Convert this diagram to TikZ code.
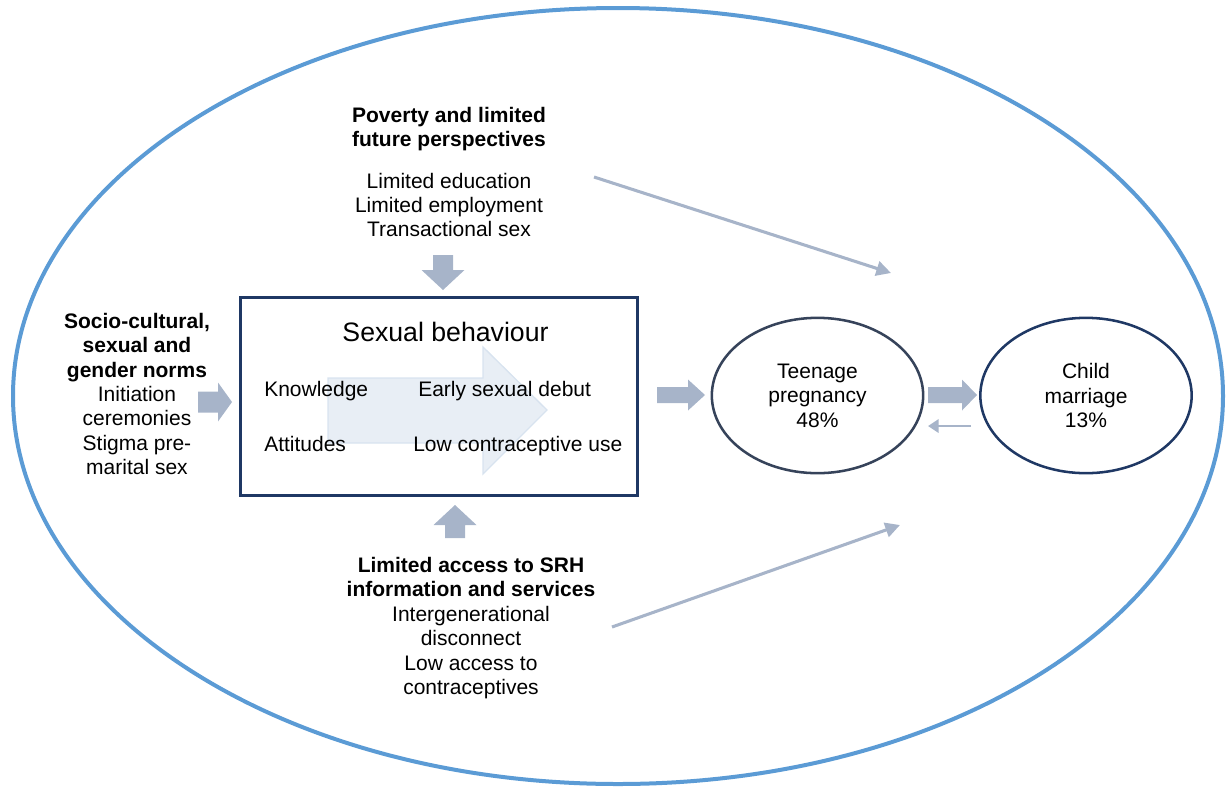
\documentclass[tikz,border=0pt]{standalone}
\usepackage{fontspec}
\setmainfont{Liberation Sans}
\usetikzlibrary{arrows.meta,shapes.geometric}
\definecolor{outerblue}{HTML}{5B9BD5}
\definecolor{navy}{HTML}{1F3864}
\definecolor{slate}{HTML}{36435A}
\definecolor{arrowgrey}{HTML}{A7B4C9}
\definecolor{innerfill}{HTML}{E8EEF5}
\definecolor{innerline}{HTML}{D8E3EF}
\newcommand{\blockarr}[7]{%
  \fill[arrowgrey,shift={(#1,#2)},rotate=#3] (0,-#6) -- (#4-#5,-#6) -- (#4-#5,-#7) -- (#4,0) -- (#4-#5,#7) -- (#4-#5,#6) -- (0,#6) -- cycle;}
\tikzset{
  txt/.style={font=\fontsize{15.75}{18.3}\selectfont, align=center, inner sep=0pt},
  btxt/.style={font=\fontsize{15.75}{18.3}\selectfont\bfseries, align=center, inner sep=0pt},
  outcome/.style={ellipse, line width=1.9pt, minimum width=158.5pt, minimum height=116.5pt,
     inner sep=0pt, align=center, font=\fontsize{15.75}{18.3}\selectfont},
  thinarrow/.style={arrowgrey, line width=2.3pt, -{Triangle[length=11pt,width=11pt]}},
  backarrow/.style={arrowgrey, line width=1.9pt, -{Triangle[length=8pt,width=10pt]}},
}
\begin{document}
\begin{tikzpicture}[x=0.75pt,y=-0.75pt]
\useasboundingbox (0,0) rectangle (1231,786);
% outer ellipse
\node[ellipse, draw=outerblue, line width=3pt, minimum width=907.5pt, minimum height=582pt, inner sep=0pt] (outer) at (618,396) {};
% central box
\node[draw=navy, line width=2.25pt, minimum width=297.75pt, minimum height=148.5pt, inner sep=0pt] (box) at (438.5,396) {};
% inner light arrow
\filldraw[fill=innerfill, draw=innerline, line width=1pt] (328,378) -- (483,378) -- (483,347) -- (547,410) -- (483,474) -- (483,443) -- (328,443) -- cycle;
\node[font=\fontsize{20}{24}\selectfont, inner sep=0pt, anchor=base] (title) at (445.5,341.5) {Sexual behaviour};
\node[txt, anchor=base west] (know) at (264,396.5) {Knowledge};
\node[txt, anchor=base west] (debut) at (418,396.5) {Early sexual debut};
\node[txt, anchor=base west] (att) at (264,451.5) {Attitudes};
\node[txt, anchor=base west] (lowc) at (413,451.5) {Low contraceptive use};
% top group
\node[btxt] (povh) at (449,129) {Poverty and limited\\future perspectives};
\node[txt] (povl) at (449,205) {Limited education\\Limited employment\\Transactional sex};
% left group
\node[txt] (soc) at (137,394) {\textbf{Socio-cultural,}\\\textbf{sexual and}\\\textbf{gender norms}\\Initiation\\ceremonies\\Stigma pre-\\marital sex};
% bottom group
\node[txt] (srh) at (471,628) {\textbf{Limited access to SRH}\\\textbf{information and services}\\Intergenerational\\disconnect\\Low access to\\contraceptives};
% outcomes
\node[outcome, draw=slate] (teen) at (817.5,395.5) {Teenage\\pregnancy\\48\%};
\node[outcome, draw=navy] (child) at (1086,395.5) {Child\\marriage\\13\%};
% block arrows
\blockarr{443}{255}{-90}{35}{20}{10}{21.5}
\blockarr{198}{402}{0}{34}{14}{10.5}{19.5}
\blockarr{455}{538}{90}{33}{20}{10}{21.5}
\blockarr{657}{395}{0}{48}{17}{8}{15.5}
\blockarr{928}{395}{0}{49}{15}{8}{15.5}
% thin arrows
\coordinate (t1) at (594,177);
\coordinate (t2) at (891,273);
\coordinate (b1) at (612,627);
\coordinate (b2) at (900,525);
\draw[thinarrow] (t1) -- (t2);
\draw[thinarrow] (b1) -- (b2);
\coordinate (s1) at (971,426);
\coordinate (s2) at (928,426);
\draw[backarrow] (s1) -- (s2);
\end{tikzpicture}
\end{document}
